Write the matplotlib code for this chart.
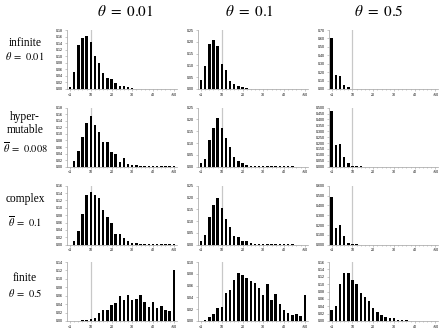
import numpy as np
import matplotlib
matplotlib.use('Agg')
import matplotlib.pyplot as plt
from matplotlib.ticker import FormatStrFormatter, MultipleLocator

plt.rcParams['mathtext.fontset'] = 'stix'
plt.rcParams['font.family'] = 'Liberation Serif'

bins = list(range(26))
x_ticks = [0, 5, 10, 15, 20, 25]
x_labels = ['<1', '10', '20', '30', '40', '>50']

col_titles = [r'$\theta\ =\ 0.01$', r'$\theta\ =\ 0.1$', r'$\theta\ =\ 0.5$']
row_labels = [['infinite', r'$\theta\ =\ 0.01$'],
              ['hyper-', 'mutable', r'$\overline{\theta}\ =\ 0.008$'],
              ['complex', r'$\overline{\theta}\ =\ 0.1$'],
              ['finite', r'$\theta\ =\ 0.5$']]

# frequency per bin, rows: infinite / hypermutable / complex / finite
inf_001 = [0.007, 0.052, 0.134, 0.156, 0.162, 0.144, 0.102, 0.078, 0.050, 0.033, 0.031, 0.017, 0.008,
           0.008, 0.005, 0.003, 0.001, 0.001, 0, 0, 0, 0, 0, 0, 0, 0]
inf_01 = [0.040, 0.097, 0.189, 0.208, 0.183, 0.108, 0.081, 0.035, 0.022, 0.011, 0.007, 0.003, 0.001,
          0, 0, 0, 0, 0, 0, 0, 0, 0, 0, 0, 0, 0]
inf_05 = [0.600, 0.170, 0.155, 0.050, 0.018, 0.004, 0.002, 0.001, 0, 0, 0, 0, 0,
          0, 0, 0, 0, 0, 0, 0, 0, 0, 0, 0, 0, 0]

hyp_001 = [0.0, 0.017, 0.047, 0.092, 0.132, 0.155, 0.128, 0.105, 0.076, 0.076, 0.046, 0.038, 0.015,
           0.026, 0.008, 0.006, 0.006, 0.003, 0.001, 0.001, 0.001, 0.001, 0.001, 0.001, 0.001, 0.001]
hyp_01 = [0.014, 0.034, 0.112, 0.162, 0.206, 0.164, 0.120, 0.082, 0.040, 0.023, 0.016, 0.006, 0.003,
          0.002, 0.001, 0.001, 0.001, 0.001, 0.001, 0.001, 0.002, 0.001, 0.001, 0, 0, 0]
hyp_05 = [0.472, 0.184, 0.195, 0.079, 0.034, 0.008, 0.008, 0.003, 0.001, 0.001, 0, 0, 0,
          0, 0, 0, 0, 0, 0, 0, 0, 0, 0, 0, 0, 0]

cpx_001 = [0.0, 0.010, 0.037, 0.083, 0.135, 0.143, 0.135, 0.127, 0.093, 0.074, 0.060, 0.028, 0.028,
           0.017, 0.011, 0.005, 0.005, 0.002, 0.001, 0.001, 0.001, 0.001, 0.001, 0.001, 0.001, 0.001]
cpx_01 = [0.017, 0.042, 0.119, 0.168, 0.198, 0.155, 0.107, 0.073, 0.038, 0.031, 0.017, 0.014, 0.008,
          0.004, 0.002, 0.001, 0.001, 0.001, 0.001, 0.001, 0.001, 0.002, 0.001, 0, 0, 0]
cpx_05 = [0.485, 0.169, 0.203, 0.085, 0.020, 0.010, 0.004, 0.002, 0.001, 0.001, 0, 0, 0,
          0, 0, 0, 0, 0, 0, 0, 0, 0, 0, 0, 0, 0]

fin_001 = [0.0, 0.0005, 0.001, 0.002, 0.002, 0.004, 0.008, 0.020, 0.027, 0.025, 0.037, 0.042, 0.060,
           0.049, 0.061, 0.049, 0.052, 0.061, 0.046, 0.034, 0.044, 0.032, 0.035, 0.026, 0.023, 0.120]
fin_01 = [0.0, 0.002, 0.006, 0.012, 0.022, 0.024, 0.047, 0.052, 0.069, 0.081, 0.078, 0.073, 0.068,
          0.064, 0.056, 0.044, 0.062, 0.036, 0.046, 0.028, 0.019, 0.014, 0.010, 0.012, 0.008, 0.044]
fin_05 = [0.030, 0.041, 0.100, 0.131, 0.131, 0.110, 0.099, 0.075, 0.066, 0.055, 0.036, 0.024, 0.016,
          0.012, 0.008, 0.008, 0.004, 0.004, 0.002, 0.001, 0.001, 0.001, 0.001, 0, 0, 0]

data = [[inf_001, inf_01, inf_05],
        [hyp_001, hyp_01, hyp_05],
        [cpx_001, cpx_01, cpx_05],
        [fin_001, fin_01, fin_05]]

# y axis top, tick step, label format for every panel
y_top = [[0.18, 0.25, 0.70], [0.18, 0.25, 0.50], [0.16, 0.25, 0.60], [0.14, 0.10, 0.16]]
y_step = [[0.02, 0.05, 0.10], [0.02, 0.05, 0.05], [0.02, 0.05, 0.10], [0.02, 0.02, 0.02]]
y_fmt = [['%.2f', '%.2f', '%.2f'], ['%.2f', '%.2f', '%.3f'], ['%.2f', '%.2f', '%.3f'], ['%.2f', '%.2f', '%.2f']]

W, H = 440, 329
fig = plt.figure(figsize=(W / 100, H / 100), dpi=100)

col_x0 = [70, 201, 331.7]       # pixel of first bin
px_per_bin = 4.15
row_base = [89, 166.7, 244.7, 321]
ax_h = 59

for r in range(4):
    for c in range(3):
        left = col_x0[c] - 0.7 * px_per_bin
        ax = fig.add_axes([left / W, 1 - row_base[r] / H, 26.4 * px_per_bin / W, ax_h / H])
        ax.axvline(5, color='#c8c8c8', lw=0.9, zorder=0)
        ax.bar(bins, data[r][c], width=0.6, color='black', zorder=2)
        ax.set_xlim(-0.7, 25.7)
        ax.set_ylim(0, y_top[r][c])
        ax.yaxis.set_major_locator(MultipleLocator(y_step[r][c]))
        ax.yaxis.set_major_formatter(FormatStrFormatter(y_fmt[r][c]))
        ax.set_xticks(x_ticks)
        ax.set_xticklabels(x_labels)
        ax.xaxis.set_minor_locator(MultipleLocator(1))
        for s in ['top', 'right']:
            ax.spines[s].set_visible(False)
        for s in ['left', 'bottom']:
            ax.spines[s].set_color('#a0a0a0')
            ax.spines[s].set_linewidth(0.5)
        ax.tick_params(which='both', labelsize=2.6, length=1.2, width=0.4, color='#a0a0a0', pad=1.5)
        ax.tick_params(which='minor', length=0.8)
        for lab in ax.get_xticklabels() + ax.get_yticklabels():
            lab.set_family('Liberation Sans')

title_x = [125, 250, 379]
for c in range(3):
    fig.text(title_x[c] / W, 1 - 11 / H, col_titles[c], fontsize=11, ha='center', va='center')

label_y = [[43, 56], [117, 130, 148], [199, 222], [278, 293]]
for r in range(4):
    for i, txt in enumerate(row_labels[r]):
        size = 8.3 if i < len(row_labels[r]) - 1 else 7.5
        fig.text(25 / W, 1 - label_y[r][i] / H, txt, fontsize=size, ha='center', va='center')

fig.savefig('out.png', dpi=100)
